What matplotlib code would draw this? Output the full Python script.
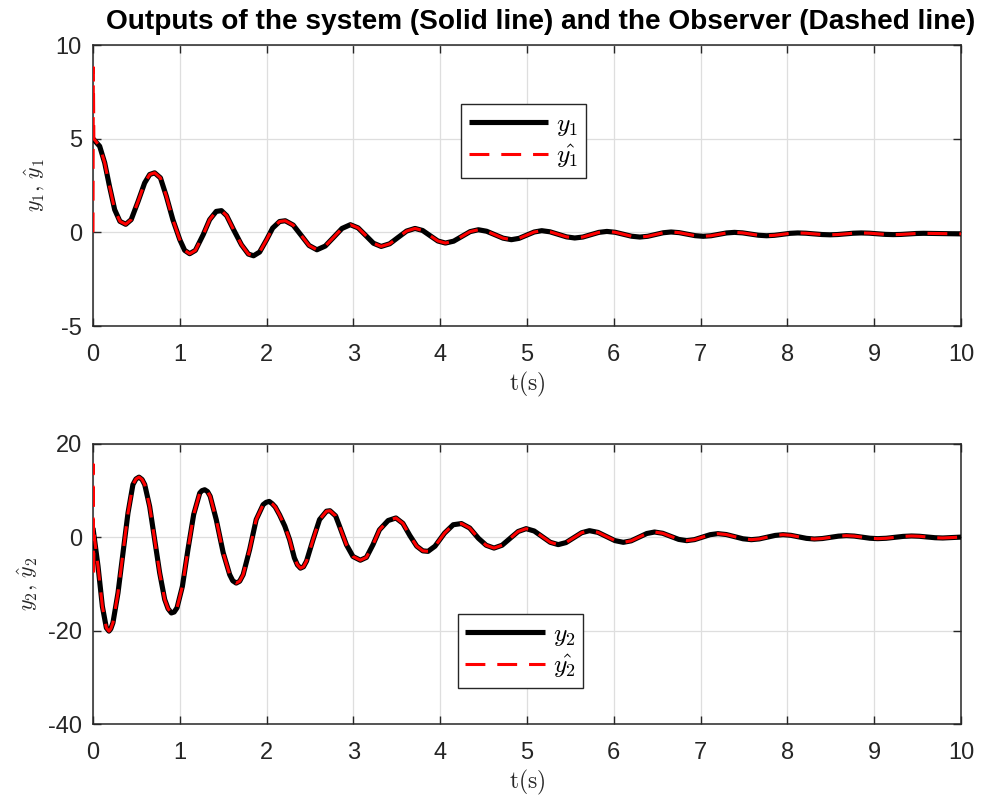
import matplotlib
matplotlib.use("Agg")
import matplotlib.pyplot as plt
import numpy as np

plt.rcParams['font.family'] = ['Liberation Sans', 'DejaVu Sans']
plt.rcParams['mathtext.fontset'] = 'cm'
plt.rcParams['axes.unicode_minus'] = False

title = "Outputs of the system (Solid line) and the Observer (Dashed line)"

# ---- system output y1 ----
t1 = [0, 0.077, 0.135, 0.19, 0.25, 0.31, 0.377, 0.44, 0.52, 0.595, 0.653, 0.71,
      0.777, 0.845, 0.92, 1.0, 1.056, 1.114, 1.18, 1.27, 1.344, 1.42, 1.48, 1.54,
      1.62, 1.71, 1.79, 1.85, 1.92, 2.0, 2.07, 2.15, 2.215,
      2.306, 2.398, 2.489, 2.58, 2.676, 2.773, 2.869, 2.965, 3.054, 3.143, 3.231,
      3.32, 3.418, 3.515, 3.613, 3.71, 3.798, 3.885, 3.973, 4.06, 4.155, 4.25,
      4.345, 4.44, 4.535, 4.63, 4.725, 4.82, 4.908, 4.995, 5.083, 5.17, 5.265,
      5.36, 5.455, 5.55, 5.643, 5.735, 5.828, 5.92, 6.015, 6.11, 6.205, 6.30,
      6.39, 6.48, 6.57, 6.66, 6.753, 6.845, 6.938, 7.03, 7.12, 7.21, 7.30, 7.39,
      7.483, 7.575, 7.668, 7.76, 7.85, 7.94, 8.03, 8.12, 8.213, 8.305, 8.398,
      8.49, 8.58, 8.67, 8.76, 8.85, 8.943, 9.035, 9.128, 9.22, 9.308, 9.395,
      9.483, 9.57, 9.78, 10.0]
y1 = [5.0, 4.6, 3.71, 2.46, 1.21, 0.59, 0.43, 0.68, 1.66, 2.64, 3.09, 3.18,
      2.91, 1.93, 0.68, -0.39, -0.96, -1.14, -0.96, -0.12, 0.68, 1.12, 1.16, 0.89,
      0.14, -0.66, -1.16, -1.25, -1.05, -0.39, 0.23, 0.58, 0.62,
      0.39, -0.155, -0.70, -0.93, -0.73, -0.26, 0.21, 0.41, 0.24, -0.17, -0.58,
      -0.75, -0.61, -0.27, 0.07, 0.21, 0.10, -0.18, -0.46, -0.57, -0.47, -0.215,
      0.04, 0.14, 0.06, -0.125, -0.31, -0.39, -0.32, -0.15, 0.02, 0.09, 0.03,
      -0.105, -0.24, -0.30, -0.25, -0.125, 0.0, 0.05, 0.006, -0.10, -0.206, -0.25,
      -0.21, -0.115, -0.02, 0.02, -0.014, -0.095, -0.176, -0.21, -0.18, -0.105, -0.03, 0.0,
      -0.026, -0.09, -0.154, -0.18, -0.158, -0.105, -0.052, -0.03, -0.045, -0.08, -0.115,
      -0.13, -0.115, -0.08, -0.045, -0.03, -0.043, -0.075, -0.107, -0.12, -0.11, -0.085,
      -0.06, -0.05, -0.065, -0.08]

# ---- system output y2 ----
t2 = [0, 0.058, 0.108, 0.154, 0.184, 0.205, 0.23, 0.288, 0.346, 0.403, 0.46, 0.495,
      0.53, 0.565, 0.596,
      0.653, 0.71, 0.768, 0.826, 0.865, 0.903, 0.935, 0.968, 1.03, 1.094, 1.16, 1.23,
      1.255, 1.287, 1.32, 1.35,
      1.42, 1.50, 1.575, 1.61, 1.65, 1.69, 1.73, 1.805, 1.88, 1.96, 1.995, 2.03,
      2.065, 2.10, 2.15, 2.21,
      2.265, 2.32, 2.355, 2.39, 2.425, 2.46, 2.535, 2.61, 2.69, 2.73, 2.795, 2.84,
      2.92, 2.995, 3.08,
      3.15, 3.225, 3.30, 3.40, 3.49, 3.57, 3.65, 3.73, 3.80, 3.86, 3.94, 4.05,
      4.15, 4.245, 4.34, 4.44, 4.53, 4.62, 4.713, 4.805, 4.898, 4.99, 5.083, 5.175,
      5.268, 5.36, 5.45, 5.54, 5.63, 5.72, 5.818, 5.915, 6.013, 6.11, 6.20, 6.29,
      6.38, 6.47, 6.563, 6.655, 6.748, 6.84, 6.93, 7.02, 7.11, 7.20, 7.296, 7.393,
      7.489, 7.585, 7.676, 7.768, 7.859, 7.95, 8.04, 8.13, 8.22, 8.31, 8.403, 8.495,
      8.588, 8.68, 8.77, 8.86, 8.95, 9.04, 9.138, 9.235, 9.333, 9.43, 9.52, 9.61,
      9.70, 9.79, 9.9, 10.0]
y2 = [2.0, -6.2, -14.8, -19.4, -20.1, -19.6, -18.3, -11.9, -3.3, 5.2, 11.3, 12.5,
      12.9, 12.4, 11.3,
      6.6, -0.5, -7.6, -13.3, -15.3, -16.2, -16.0, -15.1, -10.5, -2.6, 4.9, 9.5,
      10.0, 10.2, 9.8, 8.8,
      3.8, -3.3, -8.0, -9.3, -9.8, -9.4, -8.0, -2.6, 3.8, 7.0, 7.5, 7.7,
      7.2, 6.5, 4.8, 2.4,
      -0.5, -4.4, -5.9, -6.6, -6.3, -5.1, -0.5, 3.8, 5.6, 5.7, 4.6, 2.4,
      -1.6, -4.1, -4.9,
      -4.3, -1.6, 1.6, 3.6, 4.15, 3.0, 0.4, -1.9, -2.9, -3.0, -1.9, 0.9,
      2.7, 2.95, 2.0, -0.2, -1.7, -2.3, -1.69, -0.22, 1.25, 1.86, 1.36, 0.15,
      -1.06, -1.56, -1.12, -0.065, 0.99, 1.43, 1.06, 0.18, -0.70, -1.07, -0.75, 0.035,
      0.82, 1.14, 0.87, 0.215, -0.44, -0.71, -0.49, 0.04, 0.57, 0.79, 0.60, 0.145,
      -0.31, -0.5, -0.34, 0.035, 0.41, 0.57, 0.43, 0.105, -0.22, -0.36, -0.255, 0.0,
      0.255, 0.36, 0.27, 0.04, -0.19, -0.28, -0.2, 0.0, 0.2, 0.29, 0.23, 0.075,
      -0.08, -0.14, -0.05, 0.05]

# ---- observer initial transients (then it follows the system output) ----
t1_hat_start = [0, 0.004, 0.01]
y1_hat_start = [0, 8.8, 5.0]
t2_hat_start = [0, 0.003, 0.007, 0.012]
y2_hat_start = [0, 15.6, -8.6, 0.5]

t1_hat = t1_hat_start + t1[1:]
y1_hat = y1_hat_start + y1[1:]
t2_hat = t2_hat_start + t2[1:]
y2_hat = y2_hat_start + y2[1:]

xticks = list(range(0, 11))
yticks1 = [-5, 0, 5, 10]
yticks2 = [-40, -20, 0, 20]

fig = plt.figure(figsize=(9.82, 8.01), dpi=100)
ax1 = fig.add_axes([0.0947, 0.593, 0.8839, 0.3507])
ax2 = fig.add_axes([0.0947, 0.0961, 0.8839, 0.3496])

axcol = '#262626'
for ax, (tt, yy, th, yh, yt, lab, l1, l2, legpos) in zip(
        [ax1, ax2],
        [(t1, y1, t1_hat, y1_hat, yticks1, r'$y_1,\,\hat{y}_1$', r'$y_1$', r'$\hat{y_1}$', (0.424, 0.527)),
         (t2, y2, t2_hat, y2_hat, yticks2, r'$y_2,\,\hat{y}_2$', r'$y_2$', r'$\hat{y_2}$', (0.420, 0.129))]):
    ax.plot(tt, yy, color='black', lw=3.7, solid_capstyle='butt',
            solid_joinstyle='round', label=l1, zorder=3)
    ax.plot(th, yh, color='#ff0000', lw=2.2, dashes=(6.5, 3.9),
            dash_joinstyle='round', label=l2, zorder=4)
    ax.set_xlim(0, 10)
    ax.set_ylim(yt[0], yt[-1])
    ax.set_xticks(xticks)
    ax.set_yticks(yt)
    ax.grid(True, color='#dedede', lw=0.9)
    ax.set_axisbelow(True)
    ax.tick_params(direction='in', length=6, width=1.0, colors=axcol, labelsize=17,
                   top=True, right=True)
    ax.tick_params(axis='x', pad=13)
    ax.tick_params(axis='y', pad=8)
    for s in ax.spines.values():
        s.set_color(axcol)
        s.set_linewidth(1.1)
    ax.set_xlabel(r'$\mathrm{t(s)}$', fontsize=17, color=axcol, labelpad=3)
    ax.set_ylabel(lab, fontsize=16, color=axcol, labelpad=6)
    leg = ax.legend(loc='lower left', bbox_to_anchor=legpos, fontsize=18.5,
                    handlelength=3.1, handletextpad=0.3, borderpad=0.3,
                    labelspacing=0.2, borderaxespad=0, fancybox=False,
                    framealpha=1, edgecolor='#262626')
    leg.get_frame().set_linewidth(1.0)

fig.text(0.551, 0.9725, title, ha='center', va='center', fontsize=20.2,
         fontweight='bold', color='black')

fig.savefig('out.png', dpi=100)
